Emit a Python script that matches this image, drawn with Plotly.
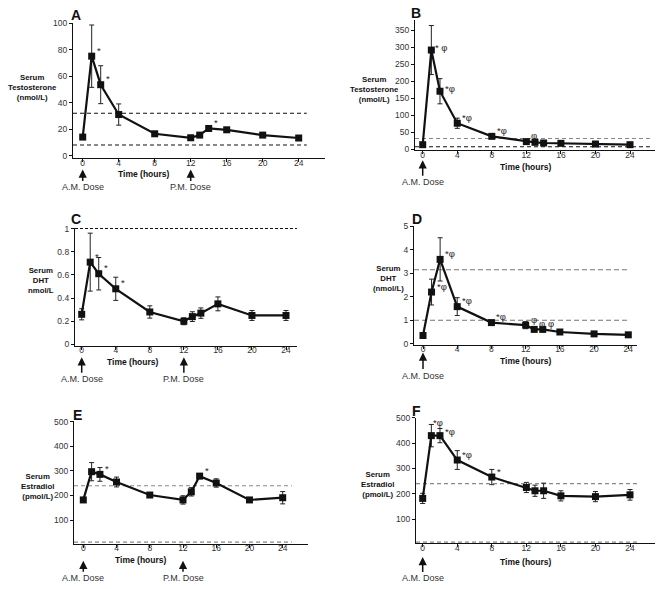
import plotly.graph_objects as go

W, H = 663, 589

# ---------------- data ----------------
hours = [0, 1, 2, 4, 8, 12, 13, 14, 16, 20, 24]
x_ticks = [0, 4, 8, 12, 16, 20, 24]

a_testo = [14, 75, 53.5, 31, 16.5, 13.5, 15.5, 20.5, 19.5, 15.5, 13.3]
a_testo_err = [1.5, 23.5, 14.3, 8, 1, 1, 1.5, 1.5, 1, 1, 1]
b_testo = [14, 292, 171, 77, 38.5, 23, 21, 19, 18, 16, 14]
b_testo_err = [3, 72, 37, 15, 4, 3, 2, 2, 2, 2, 2]
c_dht = [0.26, 0.71, 0.61, 0.48, 0.28, 0.20, 0.24, 0.27, 0.35, 0.25, 0.25]
c_dht_err = [0.048, 0.25, 0.14, 0.10, 0.053, 0.03, 0.042, 0.045, 0.06, 0.043, 0.043]
d_dht = [0.35, 2.2, 3.59, 1.58, 0.9, 0.79, 0.61, 0.61, 0.5, 0.42, 0.38]
d_dht_err = [0.05, 0.55, 0.92, 0.38, 0.05, 0.15, 0.05, 0.05, 0.04, 0.04, 0.04]
e_e2 = [182, 297, 286, 255, 202, 182, 215, 279, 251, 182, 191]
e_e2_err = [8, 37, 28, 20, 7, 17, 17, 10, 17, 5, 25]
f_e2 = [182, 429, 429, 333, 266, 225, 212, 212, 192, 189, 196]
f_e2_err = [20, 44, 28, 37, 30, 20, 22, 30, 20, 20, 21]

a_ref = [8, 32]
b_ref = [8, 32]
c_ref = [1.0]
d_ref = [1.0, 3.15]
e_ref = [10, 240]
f_ref = [10, 240]

a_marks = [(1, "*"), (2, "*"), (14, "*")]
b_marks = [(1, "* φ"), (2, "*φ"), (4, "*φ"), (8, "*φ"), (12, "φ")]
c_marks = [(1, "*"), (2, "*"), (4, "*")]
d_marks = [(1, "*φ"), (2, "*φ"), (4, "*φ"), (8, "*φ"), (12, "φ"), (13, "φ"), (14, "φ")]
e_marks = [(2, "*"), (14, "*")]
f_marks = [(1, "*φ"), (2, "*φ"), (4, "*φ"), (8, "*")]

a_doses = [(0, "A.M. Dose"), (12, "P.M. Dose")]
b_doses = [(0, "A.M. Dose")]
c_doses = [(0, "A.M. Dose"), (12, "P.M. Dose")]
d_doses = [(0, "A.M. Dose")]
e_doses = [(0, "A.M. Dose"), (12, "P.M. Dose")]
f_doses = [(0, "A.M. Dose")]

letters = ["A", "B", "C", "D", "E", "F"]
ylabels = [
    "Serum<br>Testosterone<br>(nmol/L)",
    "Serum<br>Testosterone<br>(nmol/L)",
    "Serum<br>DHT<br>nmol/L",
    "Serum<br>DHT<br>(nmol/L)",
    "Serum<br>Estradiol<br>(pmol/L)",
    "Serum<br>Estradiol<br>(pmol/L)",
]
xlabel = "Time (hours)"

# ---------------- layout geometry (pixels) ----------------
geom = [
    dict(px0=82.7, px24=298.7, left=73, right=325, y0=153, yh=18.3, vh=100, bottom=155.7, top=18.3, dtick=20,
         refend=24.9, refcol=["#111", "#111"], refdash="4px,3px",
         yl=(32, 83.5), lt=(76, 10), xl=(143, 172), head=167, ay=18),
    dict(px0=422.7, px24=630, left=415, right=655, y0=146.7, yh=25.7, vh=350, bottom=147.5, top=15, dtick=50,
         refend=26.3, refcol=["#111", "#888"], refdash="4px,3px",
         yl=(374, 85.5), lt=(416, 8), xl=(525, 165), head=157.7, ay=22),
    dict(px0=81.7, px24=286, left=75, right=297, y0=344.7, yh=227, vh=1, bottom=346, top=226.5, dtick=0.2,
         refend=26, refcol=["#111"], refdash="3px,2px",
         yl=(41, 279.3), lt=(76, 217), xl=(132, 363), head=357.7, ay=22),
    dict(px0=423, px24=628.3, left=414, right=637, y0=344, yh=224.7, vh=5, bottom=345, top=224.7, dtick=1,
         refend=24, refcol=["#777", "#777"], refdash="5px,3px",
         yl=(388, 278), lt=(417, 217), xl=(525, 362), head=353, ay=23),
    dict(px0=83.3, px24=282.7, left=74, right=308, y0=548, yh=423.3, vh=500, bottom=547.5, top=422, dtick=100,
         refend=25.1, refcol=["#888", "#888"], refdash="4px,3px",
         yl=(37, 489), lt=(77, 416), xl=(140, 564), head=564.5, ay=17.5),
    dict(px0=422.7, px24=630, left=416, right=655, y0=548, yh=419, vh=500, bottom=546.7, top=419, dtick=100,
         refend=25.1, refcol=["#888", "#888"], refdash="4px,3px",
         yl=(377, 487), lt=(416, 412), xl=(525, 566), head=560.5, ay=21.5),
]
# per-mark text offsets (panel index, hour) -> (xshift, yshift) in px
mark_shift = {(5, 1): (0, 13), (5, 2): (3, 4), (1, 1): (2, 3), (1, 2): (3, 3), (3, 1): (3, 6)}

series = [a_testo, b_testo, c_dht, d_dht, e_e2, f_e2]
errors = [a_testo_err, b_testo_err, c_dht_err, d_dht_err, e_e2_err, f_e2_err]
refs = [a_ref, b_ref, c_ref, d_ref, e_ref, f_ref]
marks = [a_marks, b_marks, c_marks, d_marks, e_marks, f_marks]
doses = [a_doses, b_doses, c_doses, d_doses, e_doses, f_doses]

FONT = "Liberation Sans, Arial, Helvetica, sans-serif"

fig = go.Figure()
layout = dict(width=W, height=H, autosize=False, margin=dict(l=0, r=0, t=0, b=0, pad=0),
              paper_bgcolor="white", plot_bgcolor="white", showlegend=False,
              font=dict(family=FONT, color="#222"))
shapes = []
annotations = []


def px2py(p):
    return 1 - p / H


for i, g in enumerate(geom):
    n = "" if i == 0 else str(i + 1)
    xa, ya = "x" + n, "y" + n
    kx = (g["px24"] - g["px0"]) / 24.0
    xr = [(g["left"] - g["px0"]) / kx, (g["right"] - g["px0"]) / kx]
    ky = (g["y0"] - g["yh"]) / g["vh"]
    yr = [(g["y0"] - g["bottom"]) / ky, (g["y0"] - g["top"]) / ky]

    layout["xaxis" + n] = dict(
        domain=[g["left"] / W, g["right"] / W], range=xr, anchor=ya,
        tickvals=x_ticks, ticks="outside", ticklen=3, tickwidth=1, tickcolor="#111",
        ticklabelstandoff=-7,
        showline=True, linecolor="#111", linewidth=1.3, showgrid=False, zeroline=False,
        tickfont=dict(size=8.5, color="#333", family=FONT), fixedrange=True)
    layout["yaxis" + n] = dict(
        domain=[px2py(g["bottom"]), px2py(g["top"])], range=yr, anchor=xa,
        dtick=g["dtick"], tick0=0, ticks="outside", ticklen=3, tickwidth=1, tickcolor="#111",
        showline=True, linecolor="#111", linewidth=1.3, showgrid=False, zeroline=False,
        tickfont=dict(size=8.5, color="#333", family=FONT), fixedrange=True)

    for r, col in zip(refs[i], g["refcol"]):
        shapes.append(dict(type="line", xref=xa, yref=ya, x0=xr[0], x1=g["refend"], y0=r, y1=r,
                           line=dict(color=col, width=1.1, dash=g["refdash"]), layer="below"))

    fig.add_trace(go.Scatter(
        x=hours, y=series[i], xaxis=xa, yaxis=ya, mode="lines+markers",
        line=dict(color="#111", width=2.2),
        marker=dict(symbol="square", size=7, color="#111"),
        error_y=dict(type="data", array=errors[i], visible=True, color="#222", thickness=1, width=2.5),
        cliponaxis=False, hoverinfo="skip"))

    for h, txt in marks[i]:
        v = series[i][hours.index(h)]
        xs, ys = mark_shift.get((i, h), (3, 6))
        annotations.append(dict(x=h, y=v, xref=xa, yref=ya, text=txt, showarrow=False,
                                xanchor="left", yanchor="middle", xshift=xs, yshift=ys,
                                font=dict(size=9.5, color="#222", family=FONT)))

    for h, txt in doses[i]:
        annotations.append(dict(x=h, y=px2py(g["head"]), xref=xa, yref="paper", text=txt,
                                showarrow=True, ax=0, ay=g["ay"], arrowhead=2, arrowsize=1.1,
                                arrowwidth=1.5, arrowcolor="#111",
                                font=dict(size=9, color="#333", family=FONT)))

    annotations.append(dict(x=g["yl"][0] / W, y=px2py(g["yl"][1]), xref="paper", yref="paper",
                            text="<b>" + ylabels[i] + "</b>", showarrow=False, align="center",
                            xanchor="center", yanchor="middle",
                            font=dict(size=7.8, color="#111", family=FONT)))
    annotations.append(dict(x=g["xl"][0] / W, y=px2py(g["xl"][1]), xref="paper", yref="paper",
                            text="<b>" + xlabel + "</b>", showarrow=False,
                            xanchor="center", yanchor="middle",
                            font=dict(size=8.5, color="#111", family=FONT)))
    annotations.append(dict(x=g["lt"][0] / W, y=px2py(g["lt"][1]), xref="paper", yref="paper",
                            text="<b>" + letters[i] + "</b>", showarrow=False,
                            xanchor="center", yanchor="middle",
                            font=dict(size=14, color="#111", family=FONT)))

layout["shapes"] = shapes
layout["annotations"] = annotations
fig.update_layout(**layout)
fig.write_html("out.html", config={"displayModeBar": False},
               post_script="document.body.style.margin='0';document.body.style.overflow='hidden';")
